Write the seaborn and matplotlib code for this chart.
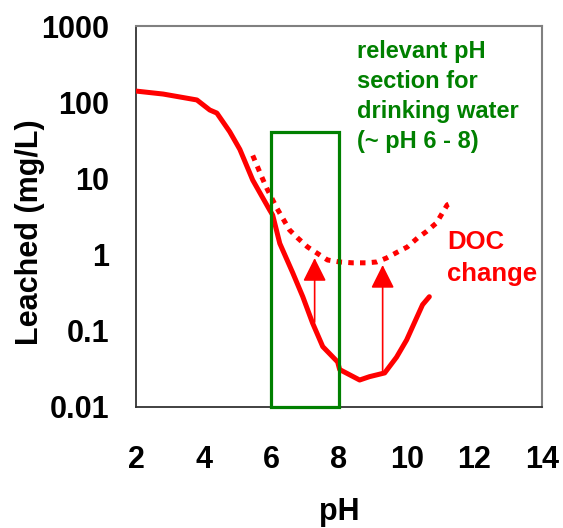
import matplotlib
matplotlib.use("Agg")
import matplotlib.pyplot as plt
import seaborn as sns
import pandas as pd
from matplotlib.patches import Rectangle
from matplotlib.ticker import FixedLocator, FixedFormatter, NullLocator

# ---- data ----
ph_leached = [2.0, 2.8, 3.8, 4.18, 4.39, 4.77, 5.07, 5.45, 5.95, 6.04, 6.25, 6.63,
              6.93, 7.22, 7.52, 7.96, 8.02, 8.61, 8.9, 9.35, 9.7, 10.0, 10.3, 10.47, 10.67]
leached = [140, 128, 107, 79, 72, 41, 24, 9.5, 3.85, 3.3, 1.4, 0.58,
           0.28, 0.126, 0.062, 0.039, 0.031, 0.0226, 0.025, 0.028, 0.045, 0.076, 0.15, 0.22, 0.28]

ph_doc = [5.45, 5.72, 5.86, 6.16, 6.54, 6.78, 7.07, 7.66, 8.02, 8.40, 8.81, 9.11,
          9.40, 9.73, 10.02, 10.32, 10.58, 10.88, 11.2, 11.32]
leached_doc = [20, 10.4, 7.5, 4.1, 2.1, 1.65, 1.26, 0.85, 0.80, 0.78, 0.78, 0.80,
               0.90, 1.08, 1.26, 1.65, 2.0, 2.6, 4.5, 4.75]

box_ph = [6, 8]
box_top = 41

arrow_ph = [7.28, 9.29]
arrow_from = [0.13, 0.029]
arrow_to = [0.9, 0.73]

x_ticks = [2, 4, 6, 8, 10, 12, 14]
y_ticks = [0.01, 0.1, 1, 10, 100, 1000]
y_tick_labels = ["0.01", "0.1", "1", "10", "100", "1000"]

# ---- style ----
sns.set_theme(style="white")
plt.rcParams["font.family"] = ["Liberation Sans", "DejaVu Sans"]
plt.rcParams["font.weight"] = "bold"

RED = "#FF0000"
GREEN = "#008000"

fig = plt.figure(figsize=(5.63, 5.28), dpi=100)
ax = fig.add_axes([136 / 563, 1 - 407 / 528, (542 - 136) / 563, (407 - 26) / 528])

df1 = pd.DataFrame({"pH": ph_leached, "val": leached})
df2 = pd.DataFrame({"pH": ph_doc, "val": leached_doc})

sns.lineplot(data=df1, x="pH", y="val", ax=ax, color=RED, lw=3.6,
             sort=False, zorder=3)
sns.lineplot(data=df2, x="pH", y="val", ax=ax, color=RED, lw=3.6,
             linestyle=(0, (1.1, 1.25)), sort=False, zorder=3)

ax.set_yscale("log")
ax.set_xlim(2, 14)
ax.set_ylim(0.01, 1000)

# green box
rect = Rectangle((box_ph[0], 0.01), box_ph[1] - box_ph[0], box_top - 0.01,
                 fill=False, edgecolor=GREEN, lw=2.3, zorder=5, clip_on=False)
ax.add_patch(rect)

# arrows
for xp, y0, y1 in zip(arrow_ph, arrow_from, arrow_to):
    ax.annotate("", xy=(xp, y1), xytext=(xp, y0),
                arrowprops=dict(arrowstyle="-|>,head_length=0.8,head_width=0.4",
                                mutation_scale=18, color=RED, lw=1.2,
                                shrinkA=0, shrinkB=0), zorder=4)

# texts
ax.text(8.52, 658, "relevant pH\nsection for\ndrinking water\n(~ pH 6 - 8)",
        color=GREEN, fontsize=17, fontweight="bold", ha="left", va="top",
        linespacing=1.40)
ax.text(11.2, 2.08, "DOC\nchange", color=RED, fontsize=18.5, fontweight="bold",
        ha="left", va="top", linespacing=1.39)

# ticks
ax.xaxis.set_major_locator(FixedLocator(x_ticks))
ax.set_xticklabels([str(t) for t in x_ticks])
ax.yaxis.set_major_locator(FixedLocator(y_ticks))
ax.yaxis.set_major_formatter(FixedFormatter(y_tick_labels))
ax.yaxis.set_minor_locator(NullLocator())
ax.tick_params(axis="both", which="major", direction="inout", length=9,
               width=1.0, color="#333333", labelsize=22, labelcolor="black")
ax.tick_params(axis="x", pad=23)
ax.tick_params(axis="y", pad=15)
for lab in ax.get_xticklabels() + ax.get_yticklabels():
    lab.set_fontweight("bold")

ax.set_xlabel("pH", fontsize=22, fontweight="bold", color="black", va="top")
ax.set_ylabel("Leached (mg/L)", fontsize=22, fontweight="bold", color="black")
ax.xaxis.set_label_coords(0.5, -0.235)
ax.yaxis.set_label_coords(-0.225, 0.46)

for s in ["left", "bottom"]:
    ax.spines[s].set_color("#333333")
    ax.spines[s].set_linewidth(1.3)
for s in ["top", "right"]:
    ax.spines[s].set_color("#808080")
    ax.spines[s].set_linewidth(1.5)
ax.grid(False)

fig.savefig("out.png", dpi=100)
